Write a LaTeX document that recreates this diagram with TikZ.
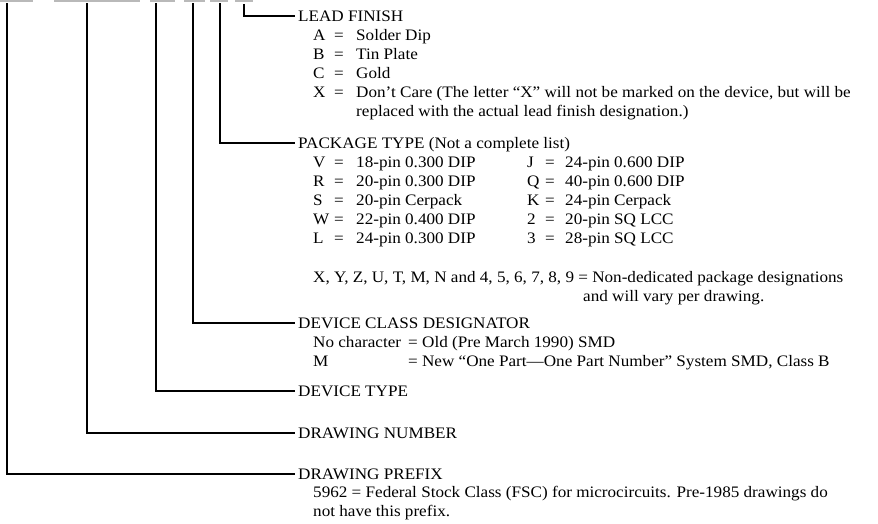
\documentclass[tikz,border=0pt]{standalone}
\usepackage{fontspec}
\setmainfont{Liberation Serif}[FakeStretch=1.07]
\usepackage{array}
\begin{document}
\begin{tikzpicture}[
    x=1pt, y=-1pt,
    font=\fontsize{16}{19}\selectfont,
    head/.style={anchor=west, inner xsep=3pt, inner ysep=0pt,
                 text height=10.5pt, text depth=0pt},
    list/.style={anchor=base west, inner sep=0pt},
    lead/.style={draw, line width=1.1pt},
    stub/.style={draw, gray!55, line width=2pt}]
    \useasboundingbox (0,0) rectangle (878,523);
    % part number field, cut off at the top
    \foreach \a/\b in {0/33, 54/140, 150/175, 184/205, 210/228, 235/253}
        \draw[stub] (\a,0.5) -- (\b,0.5);
    % where the leaders start
    \coordinate (tprefix) at (7,3);
    \coordinate (tnum)    at (87,3);
    \coordinate (ttype)   at (156,3);
    \coordinate (tclass)  at (193,3);
    \coordinate (tpkg)    at (220,3);
    \coordinate (tfin)    at (244,4);
    % headings
    \node[head] (fin)    at (295,16)  {LEAD FINISH};
    \node[head] (pkg)    at (295,143) {PACKAGE TYPE (Not a complete list)};
    \node[head] (class)  at (295,323) {DEVICE CLASS DESIGNATOR};
    \node[head] (type)   at (295,391) {DEVICE TYPE};
    \node[head] (num)    at (295,433) {DRAWING NUMBER};
    \node[head] (prefix) at (295,474) {DRAWING PREFIX};
    % lists under the headings
    \node[list] (finlist) at (313,40.5) {\begin{tabular}[t]{@{}p{21pt}@{}p{22pt}@{}l@{}}
        A & = & Solder Dip\\
        B & = & Tin Plate\\
        C & = & Gold\\
        X & = & Don't Care (The letter “X” will not be marked on the device, but will be\\
          &   & replaced with the actual lead finish designation.)
        \end{tabular}};
    \node[list] (pkglist) at (313,167.5) {\begin{tabular}[t]{@{}p{21pt}@{}p{22pt}@{}p{171pt}@{}p{18pt}@{}p{20pt}@{}l@{}}
        V & = & 18-pin 0.300 DIP    & J & = & 24-pin 0.600 DIP\\
        R & = & 20-pin 0.300 DIP    & Q & = & 40-pin 0.600 DIP\\
        S & = & 20-pin Cerpack      & K & = & 24-pin Cerpack\\
        W & = & 22-pin 0.400 DIP    & 2 & = & 20-pin SQ LCC\\
        L & = & 24-pin 0.300 DIP    & 3 & = & 28-pin SQ LCC
        \end{tabular}};
    \node[list] (pkgmore) at (313,282) {\begin{tabular}[t]{@{}l@{}}
        X, Y, Z, U, T, M, N and 4, 5, 6, 7, 8, 9 = Non-dedicated package designations\\
        \hspace*{270pt}and will vary per drawing.
        \end{tabular}};
    \node[list] (classlist) at (313,347.5) {\begin{tabular}[t]{@{}p{95pt}@{}l@{}}
        No character & = Old (Pre March 1990) SMD\\
        M            & = New “One Part—One Part Number” System SMD, Class B
        \end{tabular}};
    \node[list] (prefixlist) at (313,497) {\begin{tabular}[t]{@{}l@{}}
        5962 = Federal Stock Class (FSC) for microcircuits. Pre-1985 drawings do\\
        not have this prefix.
        \end{tabular}};
    % leaders
    \foreach \a/\b in {tfin/fin, tpkg/pkg, tclass/class, ttype/type, tnum/num, tprefix/prefix}
        \draw[lead] (\a) |- (\b.west);
\end{tikzpicture}
\end{document}
